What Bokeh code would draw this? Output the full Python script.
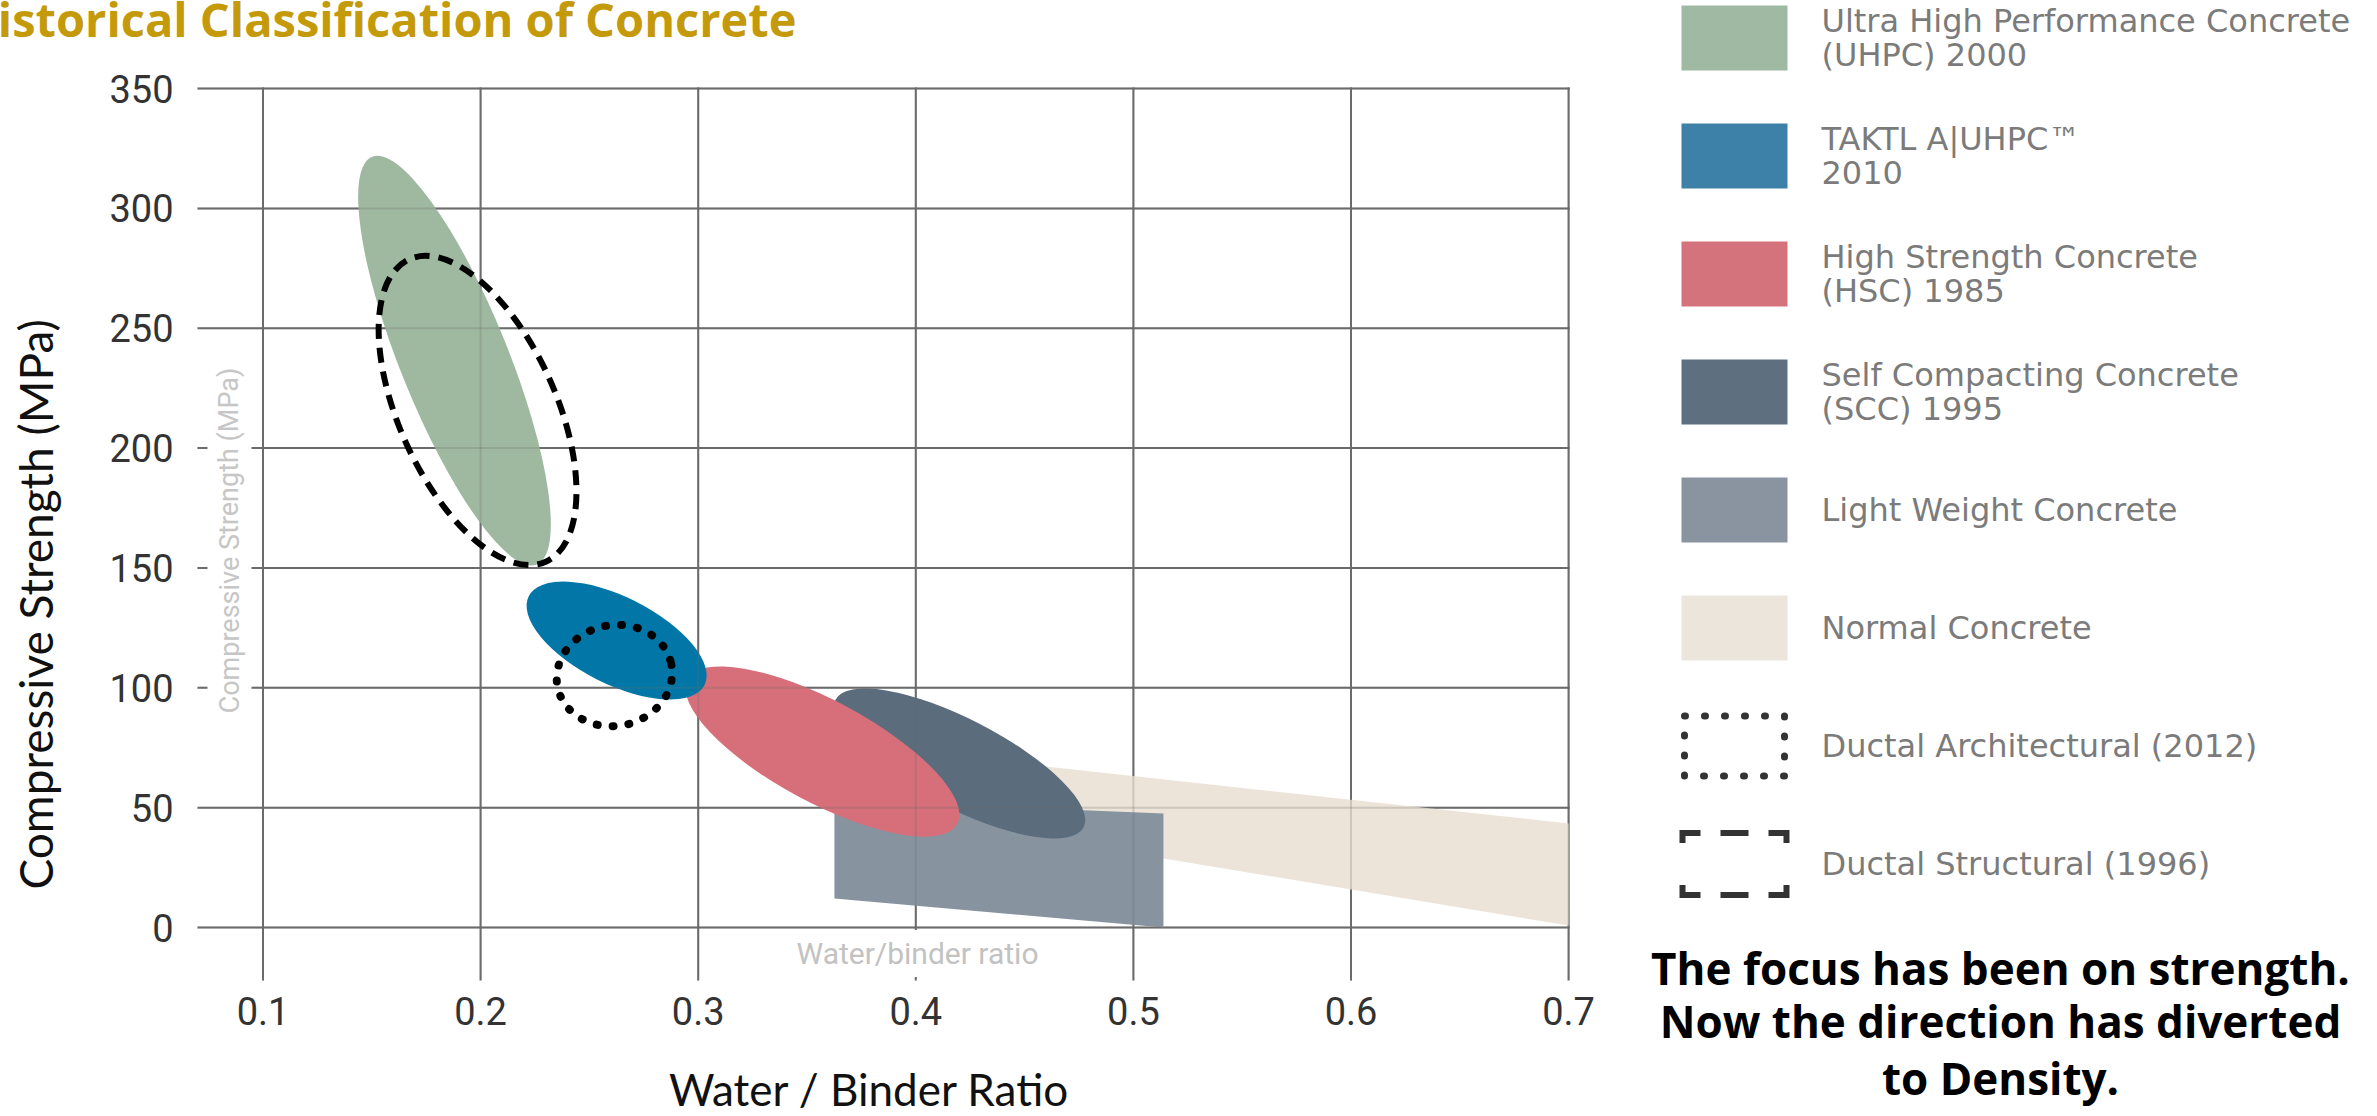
from bokeh.plotting import figure
from bokeh.models import Range1d, FixedTicker, Label
from bokeh.core.properties import value
from bokeh.embed import file_html
from bokeh.resources import INLINE

# ---------------- data ----------------
x_ticks = [0.1, 0.2, 0.3, 0.4, 0.5, 0.6, 0.7]
y_ticks = [0, 50, 100, 150, 200, 250, 300, 350]

# filled regions (polygons)
normal_x = [0.43, 0.70, 0.70, 0.43]
normal_y = [70.1, 43.4, 0.8, 41.4]
lwc_x = [0.3626, 0.5138, 0.5138, 0.3626]
lwc_y = [53.0, 47.6, 0.0, 12.1]

# ellipses: SCC, HSC, UHPC, TAKTL, Ductal Structural, Ductal Architectural
ell_names = ["SCC", "HSC", "UHPC", "TAKTL", "Ductal Structural", "Ductal Architectural"]
ell_x = [0.4201, 0.3571, 0.1880, 0.2625, 0.1986, 0.2615]
ell_y = [68.4, 73.4, 236.5, 119.7, 215.7, 105.1]
ell_w = [0.1282, 0.1406, 0.0496, 0.0905, 0.0722, 0.0533]
ell_h = [37.1, 42.6, 183.6, 36.3, 138.5, 42.1]
ell_angle = [-0.475, -0.492, 0.384, -0.468, 0.424, 0.20]

legend_labels = [
    "Ultra High Performance Concrete\n(UHPC) 2000",
    "TAKTL A|UHPC\u2122\n 2010",
    "High Strength Concrete\n(HSC) 1985",
    "Self Compacting Concrete\n(SCC) 1995",
    "Light Weight Concrete",
    "Normal Concrete",
    "Ductal Architectural (2012)",
    "Ductal Structural (1996)",
]
note_lines = ["The focus has been on strength.",
              "Now the direction has diverted",
              "to Density."]

# ---------------- styles ----------------
C_UHPC = "#9fb9a1"
C_TAKTL = "#0277a7"
C_HSC = "#d66f79"
C_SCC = "#5b6c7c"
C_LWC = "#8893a0"
C_NORMAL = "#ece4d9"
LEG_COLORS = ["#a0b9a3", "#3d80a8", "#d4737b", "#5e6f7f", "#8a94a1", "#ece5db"]
GRID = "#6b6b6b"

W, H = 2377, 1116
PX_X, PX_Y = 2176.0, 2.397          # pixels per data unit
X0 = 0.1 - 262.5 / PX_X             # data x at the left canvas edge
Y1 = 927 / PX_Y                      # data y at the top canvas edge
X1 = X0 + W / PX_X
Y0 = Y1 - H / PX_Y

def cx(px):   # canvas pixel (from left) -> data x
    return X0 + px / PX_X

def cy(py):   # canvas pixel (from top) -> data y
    return Y1 - py / PX_Y

GX0, GY0 = 0.0699, -22.1            # where the grid lines start (left / bottom)

p = figure(width=W, height=H, x_range=Range1d(X0, X1), y_range=Range1d(Y0, Y1),
           output_backend="svg", toolbar_location=None,
           min_border=0, min_border_left=0, min_border_right=0,
           min_border_top=0, min_border_bottom=0)
p.outline_line_color = None
p.grid.visible = False

for ax, ticks in ((p.xaxis, x_ticks), (p.yaxis, y_ticks)):
    ax.ticker = FixedTicker(ticks=ticks)
    ax.axis_line_color = None
    ax.major_tick_line_color = None
    ax.minor_tick_line_color = None
    ax.major_tick_out = 0
    ax.major_tick_in = 0
    ax.major_label_text_font = "Roboto"
    ax.major_label_text_font_size = "38px"
    ax.major_label_text_color = "#333333"
p.xaxis.fixed_location = GY0
p.yaxis.fixed_location = GX0
p.xaxis.major_label_standoff = 17
p.yaxis.major_label_standoff = 24

def grid(alpha):
    n = len(y_ticks)
    p.segment(x0=[GX0] * n, x1=[x_ticks[-1] + 0.0005] * n, y0=y_ticks, y1=y_ticks,
              line_color=GRID, line_width=2, line_alpha=alpha)
    m = len(x_ticks)
    p.segment(x0=x_ticks, x1=x_ticks, y0=[GY0] * m, y1=[y_ticks[-1] + 0.4] * m,
              line_color=GRID, line_width=2, line_alpha=alpha)

grid(1.0)
p.patch(normal_x, normal_y, fill_color=C_NORMAL, line_color=None)
p.patch(lwc_x, lwc_y, fill_color=C_LWC, line_color=None)
fills = [C_SCC, C_HSC, C_UHPC, C_TAKTL]
for i in range(4):
    p.ellipse(x=[ell_x[i]], y=[ell_y[i]], width=[ell_w[i]], height=[ell_h[i]],
              angle=[ell_angle[i]], fill_color=fills[i], line_color=None)
grid(0.25)
p.ellipse(x=[ell_x[4]], y=[ell_y[4]], width=[ell_w[4]], height=[ell_h[4]],
          angle=[ell_angle[4]], fill_color=None, line_color="black",
          line_width=6, line_dash="15 9")
p.ellipse(x=[ell_x[5]], y=[ell_y[5]], width=[ell_w[5]], height=[ell_h[5]],
          angle=[ell_angle[5]], fill_color=None, line_color="black",
          line_width=8, line_dash="1 15", line_cap="round")

# faded original axis captions
p.add_layout(Label(x=cx(229), y=cy(540), text="Compressive Strength (MPa)", angle=1.5708,
                   text_align="center", text_baseline="middle", text_font="Roboto",
                   text_font_size="27px", text_color="#c6c6c6",
                   background_fill_color="white", padding=6))
p.add_layout(Label(x=cx(917), y=cy(953), text="Water/binder ratio",
                   text_align="center", text_baseline="middle", text_font="Roboto",
                   text_font_size="30px", text_color="#c2c2c2",
                   background_fill_color="white", padding=6))

# axis titles
p.add_layout(Label(x=cx(35), y=cy(598), text="Compressive  Strength (MPa)", angle=1.5708,
                   text_align="center", text_baseline="middle", text_font="Lato",
                   text_font_size="46px", text_color="#111111"))
p.add_layout(Label(x=cx(869), y=cy(1088), text="Water / Binder Ratio",
                   text_align="center", text_baseline="middle", text_font="Lato",
                   text_font_size="44px", text_color="#111111"))

# title (cropped at the left edge in the reference)
p.add_layout(Label(x=cx(796), y=cy(18), text="Historical Classification of Concrete",
                   text_align="right", text_baseline="middle", text_font="Open Sans",
                   text_font_style="bold", text_font_size="47px", text_color="#c49a0a"))

# ---------------- legend ----------------
SW_CX, SW_W, SW_H = 1734, 106, 65
TXT_X = 1821
ROW0, ROW_STEP = 37.5, 118
centers = [ROW0 + ROW_STEP * i for i in range(len(legend_labels))]

p.rect(x=[cx(SW_CX)] * 6, y=[cy(c) for c in centers[:6]], width=SW_W, height=SW_H,
       width_units="screen", height_units="screen",
       fill_color=LEG_COLORS, line_color=None)
p.rect(x=[cx(SW_CX)], y=[cy(centers[6])], width=100, height=60,
       width_units="screen", height_units="screen", fill_color=None,
       line_color="#333333", line_width=7, line_dash="1 19", line_cap="round")
p.rect(x=[cx(SW_CX)], y=[cy(centers[7])], width=104, height=62,
       width_units="screen", height_units="screen", fill_color=None,
       line_color="#333333", line_width=6, line_join="miter",
       line_dash="18 20 28 20 28 42 28 20 28 20 28 42 10")

tx, ty, tt = [], [], []
for c, lab in zip(centers, legend_labels):
    lines = lab.split("\n")
    offs = [0] if len(lines) == 1 else [-17, 17]
    for o, ln in zip(offs, lines):
        tx.append(cx(TXT_X))
        ty.append(cy(c + o))
        tt.append(ln)
p.text(x=tx, y=ty, text=tt, text_font=value("DejaVu Sans"), text_font_size="32px",
       text_color="#7b7b7b", text_align="left", text_baseline="middle")

# ---------------- note ----------------
p.text(x=[cx(2000)] * 3, y=[cy(967), cy(1020), cy(1077)], text=note_lines,
       text_font=value("Open Sans"), text_font_style="bold", text_font_size="44px",
       text_color="black", text_align="center", text_baseline="middle")

open("out.html", "w").write(file_html(p, INLINE))
